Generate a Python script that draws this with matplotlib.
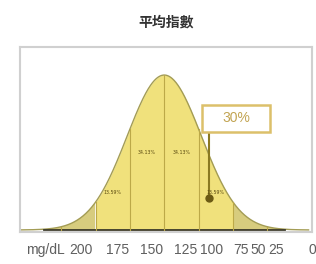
import numpy as np
import matplotlib
matplotlib.use('Agg')
import matplotlib.pyplot as plt
from matplotlib.patches import Rectangle

# chart content
title = '平均指數'
tick_labels = ['mg/dL', '200', '175', '150', '125', '100', '75', '50', '25', '0']
section_edges = [-3, -2, -1, 0, 1, 2, 3]
section_labels = ['13.59%', '34.13%', '34.13%', '13.59%']
section_centres = [-1.5, -0.5, 0.5, 1.5]
marker_label = '30%'
marker_z = 1.31
marker_y = 0.206

# layout (z units on x, relative height on y)
tick_pos = [-3.46, -2.43, -1.37, -0.37, 0.63, 1.37, 2.23, 2.74, 3.26, 4.3]
label_y = [0.239, 0.497, 0.497, 0.239]
curve_sd = 1.08

z = np.linspace(-4.2, 4.2, 600)
bell = np.exp(-z ** 2 / (2 * curve_sd ** 2))

fig = plt.figure(figsize=(3.16, 2.64), dpi=100)
ax = fig.add_axes([20 / 316, 32 / 264, 292 / 316, 185 / 264])
ax.set_xlim(-4.2, 4.14)
ax.set_ylim(-0.0129, 1.181)

# fills: outer tails darker, inner sections bright yellow
ax.fill_between(z, 0, bell, where=np.abs(z) >= 2, color='#d7cc7e', lw=0)
ax.fill_between(z, 0, bell, where=np.abs(z) <= 2, color='#f0e17c', lw=0)
ax.plot(z, bell, color='#a39c55', lw=1.0)
ax.plot([-3.5, 3.5], [0, 0], color='#3a3828', lw=1.3)

for e in section_edges:
    h = np.exp(-e ** 2 / (2 * curve_sd ** 2))
    ax.plot([e, e], [0, h], color='#bca948', lw=0.8)

for x, y, s in zip(section_centres, label_y, section_labels):
    ax.text(x, y, s, ha='center', va='center', fontsize=3.4, color='#5a4a10')

# highlighted marker with callout
ax.plot([marker_z, marker_z], [0.632, marker_y], color='#8a7a22', lw=1.5)
ax.plot(marker_z, marker_y, 'o', ms=5, color='#6b5a14')
ax.add_patch(Rectangle((1.09, 0.632), 2.0, 0.174, facecolor='white',
                       edgecolor='#dcc06a', lw=1.8, zorder=5))
ax.text(2.09, 0.72, marker_label, ha='center', va='center', fontsize=10,
        color='#c2a452', zorder=6, family=['Liberation Sans', 'DejaVu Sans'])

ax.set_xticks(tick_pos, tick_labels)
ax.tick_params(axis='x', length=0, pad=8, labelsize=10, labelcolor='#5f5f5f')
for lab in ax.get_xticklabels():
    lab.set_family(['Liberation Sans', 'DejaVu Sans'])
ax.set_yticks([])
for sp in ax.spines.values():
    sp.set_color('#d0d0d0')
    sp.set_linewidth(1.5)

fig.text(166 / 316, 1 - 23 / 264, title, ha='center', va='center',
         fontsize=10, fontweight='bold', color='#333333',
         family=['Noto Sans CJK TC', 'DejaVu Sans'])

fig.savefig('out.png', dpi=100)
